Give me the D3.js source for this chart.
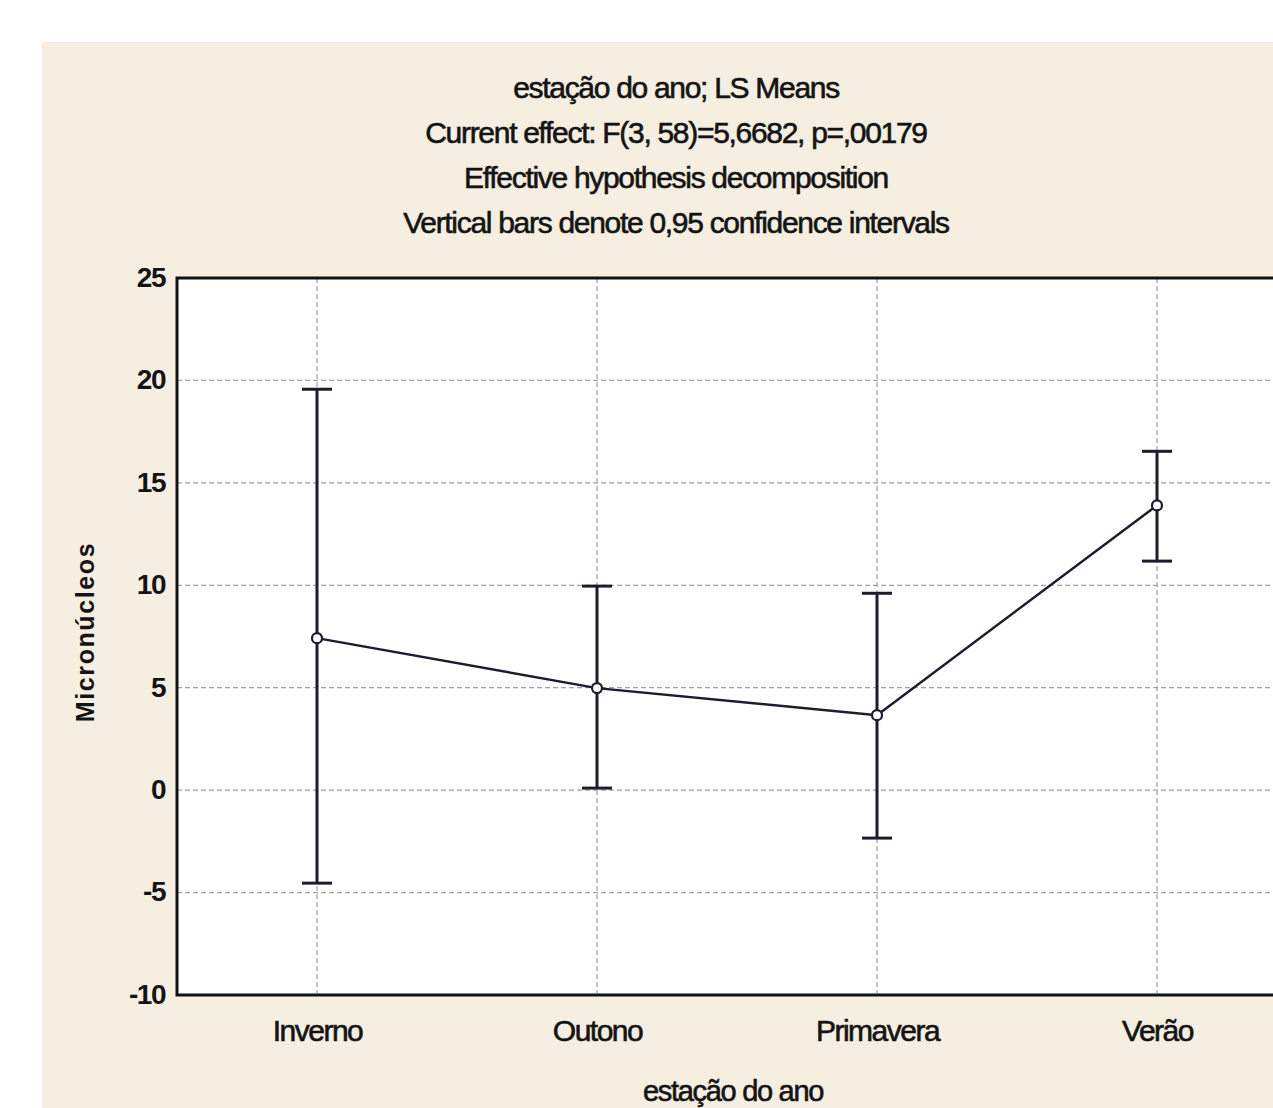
<!DOCTYPE html>
<html>
<head>
<meta charset="utf-8">
<script src="https://cdn.jsdelivr.net/npm/d3@7"></script>
<style>
body { margin: 0; background: #fff; }
svg { display: block; }
</style>
</head>
<body>
<svg width="1273" height="1108"></svg>
<script>
const svg = d3.select("svg");

var seasons = ["Inverno", "Outono", "Primavera", "Verão"];
var means = [7.42, 4.98, 3.66, 13.9];
var upper = [19.57, 9.96, 9.61, 16.54];
var lower = [-4.54, 0.1, -2.34, 11.18];
var yTicks = [25, 20, 15, 10, 5, 0, -5, -10];
var titleLines = ["estação do ano; LS Means",
  "Current effect: F(3, 58)=5,6682, p=,00179",
  "Effective hypothesis decomposition",
  "Vertical bars denote 0,95 confidence intervals"];

var pLeft = 177, pTop = 278, pBottom = 995, pRight = 1297;
var narrow = "'Liberation Sans Narrow', 'Liberation Sans', Arial, sans-serif";
var ink = "#141414";

// beige panel
svg.append("rect").attr("x", 42).attr("y", 42).attr("width", 1240).attr("height", 1070)
  .attr("fill", "#f6efe1");

// title
svg.selectAll("text.title").data(titleLines).enter().append("text")
  .attr("class", "title")
  .attr("x", 676).attr("y", function(d, i) { return 98 + i * 45; })
  .attr("text-anchor", "middle")
  .attr("font-family", narrow).attr("font-size", 30).attr("letter-spacing", -1.3)
  .attr("fill", ink).attr("stroke", ink).attr("stroke-width", 0.6)
  .text(function(d) { return d; });

var x = d3.scalePoint().domain(seasons).range([pLeft, pRight]).padding(0.5);
var y = d3.scaleLinear().domain([-10, 25]).range([pBottom, pTop]);

// plot area
svg.append("rect").attr("x", pLeft).attr("y", pTop).attr("width", pRight - pLeft).attr("height", pBottom - pTop)
  .attr("fill", "#fff");

// grid
svg.selectAll("line.hgrid").data(yTicks.slice(1, -1)).enter().append("line")
  .attr("x1", pLeft).attr("x2", pRight)
  .attr("y1", function(d) { return y(d); }).attr("y2", function(d) { return y(d); })
  .attr("stroke", "#a0a0a6").attr("stroke-width", 1.2).attr("stroke-dasharray", "5,3");
svg.selectAll("line.vgrid").data(seasons).enter().append("line")
  .attr("x1", function(d) { return x(d); }).attr("x2", function(d) { return x(d); })
  .attr("y1", pTop).attr("y2", pBottom)
  .attr("stroke", "#a0a0a6").attr("stroke-width", 1.2).attr("stroke-dasharray", "5,3");

// frame
svg.append("rect").attr("x", pLeft).attr("y", pTop).attr("width", pRight - pLeft).attr("height", pBottom - pTop)
  .attr("fill", "none").attr("stroke", ink).attr("stroke-width", 3);

// axes
var yAxis = svg.append("g").attr("transform", "translate(" + pLeft + ",0)")
  .call(d3.axisLeft(y).tickValues(yTicks).tickSize(0).tickPadding(12)
    .tickFormat(function(d) { return String(d); }));
yAxis.select(".domain").remove();
yAxis.selectAll("text").attr("font-family", narrow).attr("font-size", 28)
  .attr("font-weight", "bold").attr("letter-spacing", -1.5).attr("fill", ink)
  .attr("dy", "0.3em");

var xAxis = svg.append("g").attr("transform", "translate(0," + pBottom + ")")
  .call(d3.axisBottom(x).tickSize(0).tickPadding(25));
xAxis.select(".domain").remove();
xAxis.selectAll("text").attr("font-family", narrow).attr("font-size", 30)
  .attr("letter-spacing", -1.5).attr("fill", ink)
  .attr("stroke", ink).attr("stroke-width", 0.6);

// axis titles
svg.append("text").attr("transform", "translate(94,632) rotate(-90)")
  .attr("text-anchor", "middle")
  .attr("font-family", "'Liberation Sans', Arial, sans-serif").attr("font-size", 25)
  .attr("font-weight", "bold").attr("letter-spacing", 1.6).attr("fill", ink)
  .text("Micronúcleos");
svg.append("text").attr("x", 733).attr("y", 1101)
  .attr("text-anchor", "middle")
  .attr("font-family", narrow).attr("font-size", 29).attr("letter-spacing", -1.3)
  .attr("fill", ink).attr("stroke", ink).attr("stroke-width", 0.6)
  .text("estação do ano");

// error bars
var col = "#1c1c2c";
var g = svg.append("g");
g.selectAll("line.err").data(seasons).enter().append("line")
  .attr("x1", function(d) { return x(d); }).attr("x2", function(d) { return x(d); })
  .attr("y1", function(d, i) { return y(upper[i]); })
  .attr("y2", function(d, i) { return y(lower[i]); })
  .attr("stroke", col).attr("stroke-width", 3);
g.selectAll("line.capU").data(seasons).enter().append("line")
  .attr("x1", function(d) { return x(d) - 15; }).attr("x2", function(d) { return x(d) + 15; })
  .attr("y1", function(d, i) { return y(upper[i]); })
  .attr("y2", function(d, i) { return y(upper[i]); })
  .attr("stroke", col).attr("stroke-width", 3);
g.selectAll("line.capL").data(seasons).enter().append("line")
  .attr("x1", function(d) { return x(d) - 15; }).attr("x2", function(d) { return x(d) + 15; })
  .attr("y1", function(d, i) { return y(lower[i]); })
  .attr("y2", function(d, i) { return y(lower[i]); })
  .attr("stroke", col).attr("stroke-width", 3);

// mean line
var line = d3.line().x(function(d, i) { return x(seasons[i]); }).y(function(d) { return y(d); });
g.append("path").datum(means).attr("d", line)
  .attr("fill", "none").attr("stroke", col).attr("stroke-width", 2.5);

g.selectAll("circle").data(means).enter().append("circle")
  .attr("cx", function(d, i) { return x(seasons[i]); })
  .attr("cy", function(d) { return y(d); })
  .attr("r", 5).attr("fill", "#fff").attr("stroke", col).attr("stroke-width", 2.2);
</script>
</body>
</html>
